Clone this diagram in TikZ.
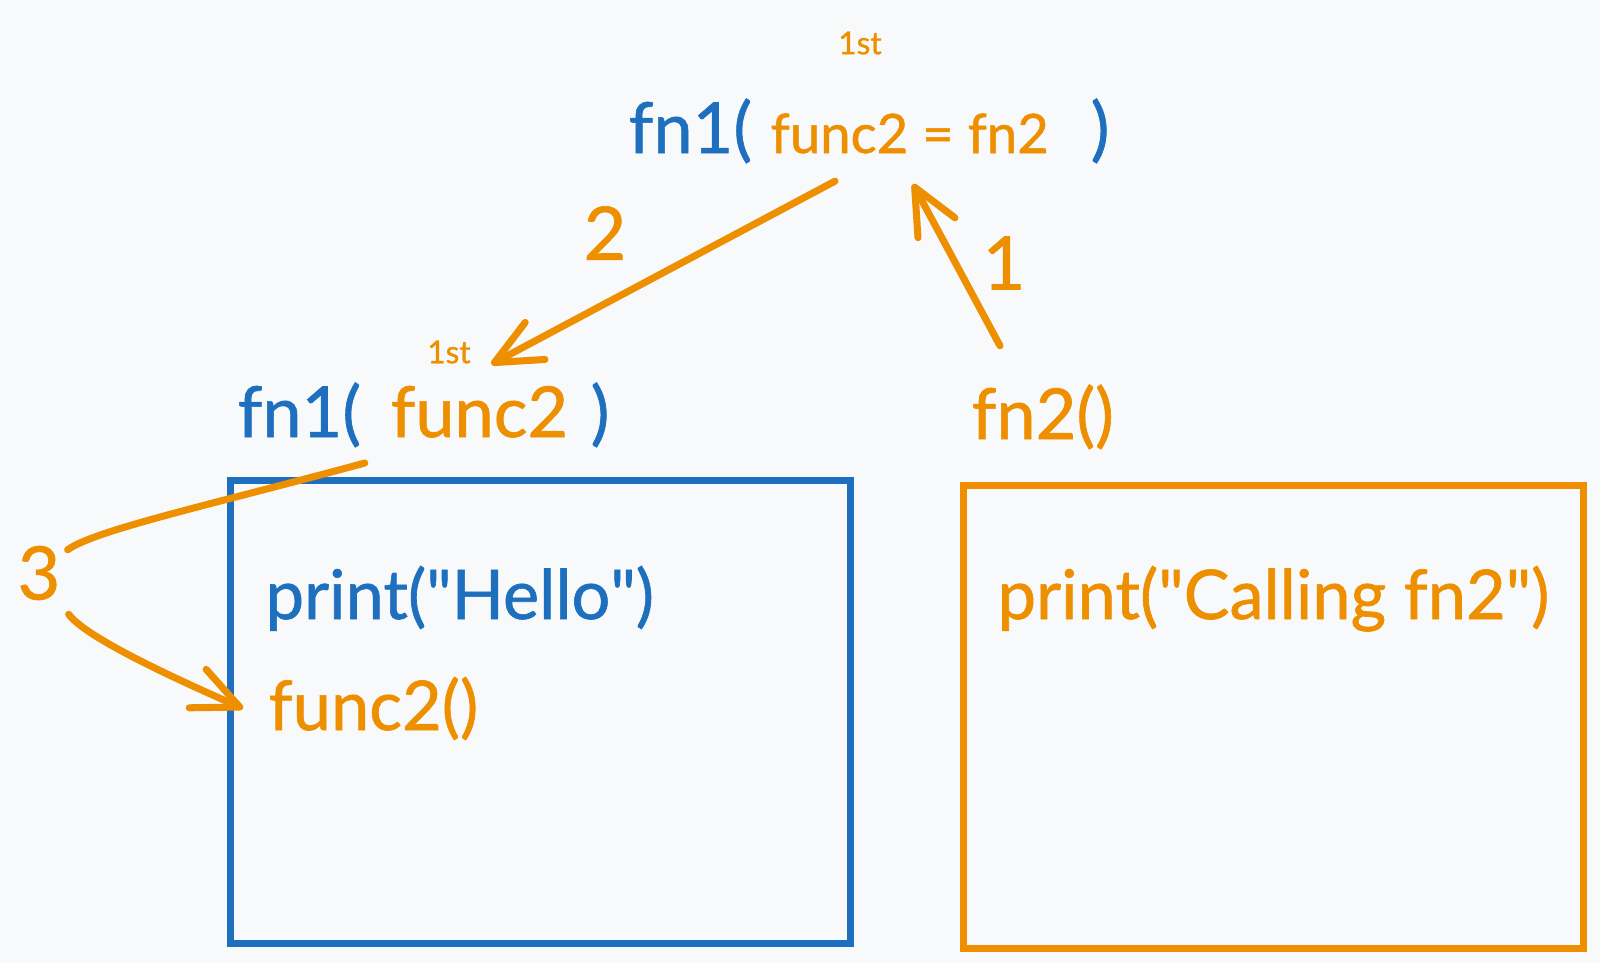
\documentclass[tikz,border=0pt]{standalone}
\usepackage{fontspec}
\setmainfont{Lato}[FakeBold=0.9]
\usetikzlibrary{arrows.meta}

\definecolor{codeblue}{RGB}{30,112,191}
\definecolor{codeorange}{RGB}{238,143,0}
\definecolor{pagebg}{RGB}{248,249,250}
\newcommand{\dq}{\textquotedbl}

\begin{document}
\begin{tikzpicture}[
  x=1cm, y=1cm,
  big/.style={font=\fontsize{20}{24}\selectfont, inner sep=0pt, anchor=base west},
  mid/.style={font=\fontsize{20}{24}\selectfont, inner sep=0pt, anchor=base west},
  body/.style={font=\fontsize{19.5}{23}\selectfont, inner sep=0pt, anchor=base west},
  arg/.style={font=\fontsize{15.5}{19}\selectfont, inner sep=0pt, anchor=base west, text=codeorange},
  tiny/.style={font=\fontsize{9}{11}\selectfont, inner sep=0pt, text=codeorange},
  stepnum/.style={font=\fontsize{21}{25}\selectfont, inner sep=1pt, text=codeorange},
  frame/.style={draw, line width=2pt, inner sep=0pt, anchor=north west},
  arrow/.style={-{Straight Barb[length=4.6mm, width=4.2mm, round]}, line width=2pt, draw=codeorange, line cap=round},
  curve/.style={line width=2pt, draw=codeorange, line cap=round}
]

\fill[pagebg] (0,0) rectangle (16,-9.63);
\useasboundingbox (0,0) rectangle (16,-9.63);

% Top call
\node[tiny] (topFirst) at (8.60,-0.43) {1st};
\node[big, text=codeblue] (topFn) at (6.28,-1.53) {fn1(};
\node[arg] (topArg) at (7.70,-1.53) {func2 = fn2};
\node[big, text=codeblue] (topClose) at (10.90,-1.53) {)};

% Left call
\node[tiny] (leftFirst) at (4.49,-3.52) {1st};
\node[mid, text=codeblue] (leftFn) at (2.37,-4.37) {fn1(};
\node[mid, text=codeorange] (leftArg) at (3.90,-4.37) {func2};
\node[mid, text=codeblue] (leftClose) at (5.90,-4.37) {)};

% Right call
\node[mid, text=codeorange] (fn2Call) at (9.71,-4.39) {fn2()};

% Bodies
\node[frame, draw=codeblue, minimum width=6.2cm, minimum height=4.63cm] (fn1Body) at (2.265,-4.765) {};
\node[body, text=codeblue] (helloLine) at (2.65,-6.19) {print(\dq Hello\dq)};
\node[body, text=codeorange] (func2Line) at (2.68,-7.30) {func2()};

\node[frame, draw=codeorange, minimum width=6.2cm, minimum height=4.63cm] (fn2Body) at (9.60,-4.815) {};
\node[body, text=codeorange] (callingLine) at (9.97,-6.19) {print(\dq Calling fn2\dq)};

% Steps
\node[stepnum] (stepOne) at (10.04,-2.63) {1};
\node[stepnum] (stepTwo) at (6.05,-2.33) {2};
\node[stepnum] (stepThree) at (0.39,-5.73) {3};

\draw[arrow] ([shift={(0.29,0.38)}]fn2Call.north west) -- ([shift={(1.43,-0.30)}]topArg.south west);
\draw[arrow] ([shift={(0.65,-0.27)}]topArg.south west) -- ([shift={(0.12,0.21)}]leftArg.north);
\draw[curve] ([shift={(0.03,-0.15)}]leftFn.south east) .. controls (2.1,-5.05) and (0.95,-5.3) .. ([shift={(0.03,-0.08)}]stepThree.north east);
\draw[arrow] ([shift={(0.04,-0.10)}]stepThree.south east) .. controls (0.85,-6.36) and (1.6,-6.72) .. ([xshift=-0.25cm]func2Line.west);

\end{tikzpicture}
\end{document}
